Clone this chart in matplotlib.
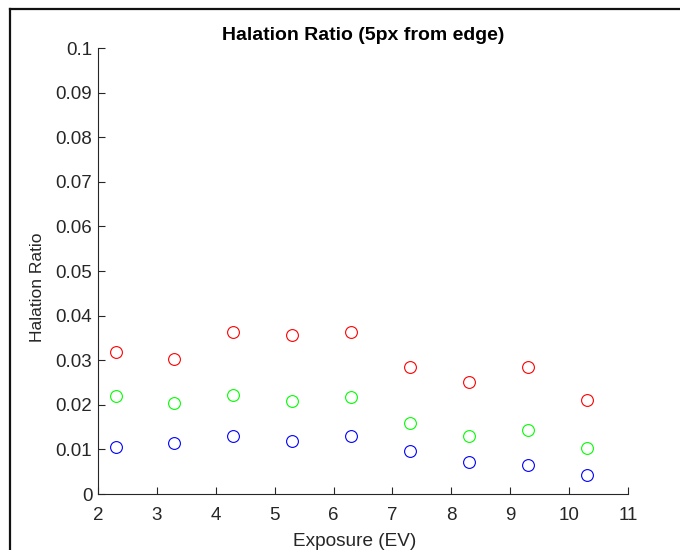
import matplotlib
matplotlib.use('Agg')
import matplotlib.pyplot as plt
from matplotlib.lines import Line2D

# Exposure values (EV)
exposure = [2.3, 3.3, 4.3, 5.3, 6.3, 7.3, 8.3, 9.3, 10.3]
# Halation ratio per channel
red_ratio = [0.0318, 0.0302, 0.0363, 0.0357, 0.0364, 0.0285, 0.0252, 0.0285, 0.0211]
green_ratio = [0.0219, 0.0204, 0.0222, 0.0208, 0.0217, 0.0160, 0.0129, 0.0144, 0.0104]
blue_ratio = [0.0105, 0.0115, 0.0131, 0.0118, 0.0131, 0.0097, 0.0071, 0.0064, 0.0043]

plt.rcParams['font.family'] = ['Liberation Sans', 'DejaVu Sans']

fig = plt.figure(figsize=(6.8, 5.5), dpi=100)
ax = fig.add_axes([0.144, 0.1018, 0.7795, 0.8109])

for vals, col in [(red_ratio, '#ff0000'), (green_ratio, '#00ff00'), (blue_ratio, '#0000ff')]:
    ax.plot(exposure, vals, linestyle='none', marker='o', markersize=8.5,
            markerfacecolor='none', markeredgecolor=col, markeredgewidth=0.8)

ax.set_xlim(2, 11)
ax.set_ylim(0, 0.1)
ax.set_xticks(range(2, 12))
ax.set_yticks([i / 100 for i in range(11)])
ax.set_yticklabels(['0'] + ['%g' % (i / 100) for i in range(1, 11)])

ax.spines['top'].set_visible(False)
ax.spines['right'].set_visible(False)
for s in ['left', 'bottom']:
    ax.spines[s].set_color('#262626')
    ax.spines[s].set_linewidth(0.8)
ax.tick_params(direction='in', length=5, width=0.8, colors='#262626',
               labelsize=13.5)
ax.tick_params(axis='x', pad=9)
ax.tick_params(axis='y', pad=4)

ax.set_title('Halation Ratio (5px from edge)', fontsize=14, fontweight='bold', pad=6)
ax.set_xlabel('Exposure (EV)', fontsize=13.7, color='#262626')
ax.set_ylabel('Halation Ratio', fontsize=12.5, color='#262626')
ax.xaxis.set_label_coords(0.485, -0.087)
ax.yaxis.set_label_coords(-0.1, 0.464)

# window border (top and left)
fig.add_artist(Line2D([10 / 680, 1], [1 - 9 / 550, 1 - 9 / 550], color='#111111', linewidth=1.6))
fig.add_artist(Line2D([10 / 680, 10 / 680], [0, 1 - 9 / 550], color='#111111', linewidth=1.6))

plt.savefig('out.png', dpi=100)
